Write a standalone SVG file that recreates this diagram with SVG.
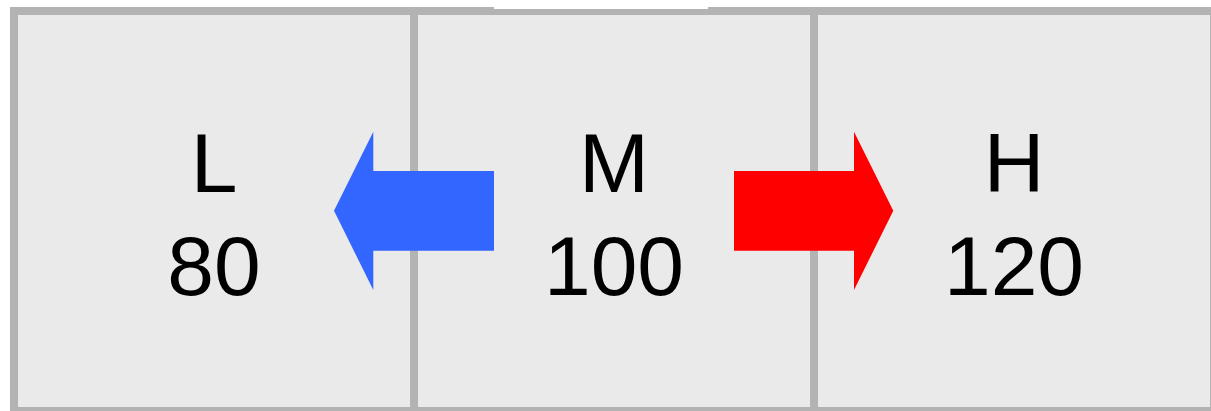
<svg xmlns="http://www.w3.org/2000/svg" width="1211" height="411" viewBox="0 0 1211 411">
  <style>
    .cell { fill: #eaeaea; stroke: #b3b3b3; stroke-width: 8; }
    .lbl { font-family: "Liberation Sans", Arial, sans-serif; font-size: 84px; fill: #000000; text-anchor: middle; }
  </style>
  <rect x="0" y="0" width="1211" height="411" fill="#ffffff"/>
  <g id="node-L">
    <rect class="cell" x="14" y="11" width="400" height="400"/>
    <text class="lbl" x="214" y="192">L</text>
    <text class="lbl" x="214" y="295">80</text>
  </g>
  <g id="node-M">
    <rect class="cell" x="414" y="11" width="400" height="400"/>
    <text class="lbl" x="614" y="192">M</text>
    <text class="lbl" x="614" y="295">100</text>
  </g>
  <g id="node-H">
    <rect class="cell" x="814" y="11" width="400" height="400"/>
    <text class="lbl" x="1014" y="192">H</text>
    <text class="lbl" x="1014" y="295">120</text>
  </g>
  <rect x="494" y="0" width="214" height="9" fill="#ffffff"/>
  <g id="connectors">
    <polygon points="494,171 373.3,171 373.3,131.7 334,210.7 373.3,290 373.3,250.7 494,250.7" fill="#3366ff"/>
    <polygon points="734,171 854,171 854,131.7 893.3,210.7 854,290 854,250.7 734,250.7" fill="#ff0000"/>
  </g>
</svg>
